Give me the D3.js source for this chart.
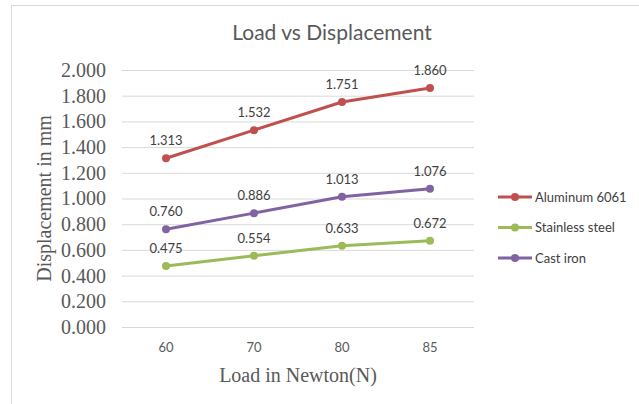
<!DOCTYPE html>
<html>
<head>
<meta charset="utf-8">
<script src="https://cdn.jsdelivr.net/npm/d3@7"></script>
<style>
  body { margin: 0; background: #fff; }
  svg { display: block; }
</style>
</head>
<body>
<div id="chart"></div>
<script>
const loads = ['60', '70', '80', '85'];
const aluminium = [1.313, 1.532, 1.751, 1.860];
const stainless = [0.475, 0.554, 0.633, 0.672];
const castIron = [0.760, 0.886, 1.013, 1.076];
const seriesNames = ['Aluminum 6061', 'Stainless steel', 'Cast iron'];
const yTicks = [0, 0.2, 0.4, 0.6, 0.8, 1.0, 1.2, 1.4, 1.6, 1.8, 2.0];

const colors = ['#c0504d', '#9bbb59', '#8064a2'];
const series = [aluminium, stainless, castIron].map((values, i) => ({
  name: seriesNames[i],
  color: colors[i],
  values: values.map((v, j) => ({ load: loads[j], value: v }))
}));

const W = 639, H = 404;
const margin = { top: 70, right: 165, bottom: 77, left: 122 };
const width = W - margin.left - margin.right;
const height = H - margin.top - margin.bottom;

const svg = d3.select('#chart')
  .append('svg')
    .attr('width', W)
    .attr('height', H);

// chart frame
svg.append('rect')
    .attr('x', 11.5)
    .attr('y', 5.5)
    .attr('width', W + 20)
    .attr('height', H + 20)
    .attr('fill', 'none')
    .attr('stroke', '#d9d9d9');

svg.append('text')
    .attr('x', 332)
    .attr('y', 40)
    .attr('text-anchor', 'middle')
    .style('font-family', 'Lato, "Open Sans", sans-serif')
    .style('font-weight', 400)
    .style('font-size', '21px')
    .attr('fill', '#595959')
    .text('Load vs Displacement');

const chart = svg.append('g')
    .attr('transform', `translate(${margin.left},${margin.top})`);

const x = d3.scaleBand()
  .domain(loads)
  .range([0, width]);

const y = d3.scaleLinear()
  .domain([0, 2])
  .range([height, 0]);

// gridlines + y labels
const yAxis = chart.append('g')
  .call(d3.axisLeft(y)
    .tickValues(yTicks)
    .tickSize(-width)
    .tickPadding(16)
    .tickFormat(d3.format('.3f')));
yAxis.select('.domain').remove();
yAxis.selectAll('line').attr('stroke', '#d9d9d9');
yAxis.selectAll('text')
    .style('font-family', '"Liberation Serif", "Times New Roman", serif')
    .style('font-size', '20px')
    .attr('fill', '#595959');

const xAxis = chart.append('g')
    .attr('transform', `translate(0,${height})`)
  .call(d3.axisBottom(x).tickSize(0).tickPadding(16));
xAxis.select('.domain').remove();
xAxis.selectAll('text')
    .style('font-family', 'Lato, "Open Sans", sans-serif')
    .style('font-size', '13px')
    .attr('fill', '#595959');

const line = d3.line()
  .x(d => x(d.load) + x.bandwidth() / 2)
  .y(d => y(d.value));

const groups = chart.selectAll('.series')
  .data(series)
  .join('g')
    .attr('class', 'series');

groups.append('path')
    .attr('fill', 'none')
    .attr('stroke', d => d.color)
    .attr('stroke-width', 3)
    .attr('stroke-linejoin', 'round')
    .attr('d', d => line(d.values));

groups.selectAll('circle')
  .data(d => d.values.map(v => ({ ...v, color: d.color })))
  .join('circle')
    .attr('cx', d => x(d.load) + x.bandwidth() / 2)
    .attr('cy', d => y(d.value))
    .attr('r', 4)
    .attr('fill', d => d.color);

groups.selectAll('.label')
  .data(d => d.values)
  .join('text')
    .attr('class', 'label')
    .attr('x', d => x(d.load) + x.bandwidth() / 2)
    .attr('y', d => y(d.value) - 13)
    .attr('text-anchor', 'middle')
    .style('font-family', 'Lato, "Open Sans", sans-serif')
    .style('font-size', '13px')
    .attr('fill', '#404040')
    .text(d => d3.format('.3f')(d.value));

// axis titles
svg.append('text')
    .attr('transform', `translate(51,${margin.top + height / 2}) rotate(-90)`)
    .attr('text-anchor', 'middle')
    .style('font-family', '"Liberation Serif", "Times New Roman", serif')
    .style('font-size', '20px')
    .attr('fill', '#595959')
    .text('Displacement in mm');

svg.append('text')
    .attr('x', margin.left + width / 2)
    .attr('y', 382)
    .attr('text-anchor', 'middle')
    .style('font-family', '"Liberation Serif", "Times New Roman", serif')
    .style('font-size', '20px')
    .attr('fill', '#595959')
    .text('Load in Newton(N)');

// legend
const legend = svg.append('g')
    .attr('transform', 'translate(498,197)');
const item = legend.selectAll('g')
  .data(series)
  .join('g')
    .attr('transform', (d, i) => `translate(0,${i * 30.5})`);
item.append('line')
    .attr('x1', 0).attr('x2', 34)
    .attr('stroke', d => d.color)
    .attr('stroke-width', 3);
item.append('circle')
    .attr('cx', 17)
    .attr('r', 4)
    .attr('fill', d => d.color);
item.append('text')
    .attr('x', 37)
    .attr('dy', '0.35em')
    .style('font-family', 'Lato, "Open Sans", sans-serif')
    .style('font-size', '13px')
    .attr('fill', '#404040')
    .text(d => d.name);
</script>
</body>
</html>
